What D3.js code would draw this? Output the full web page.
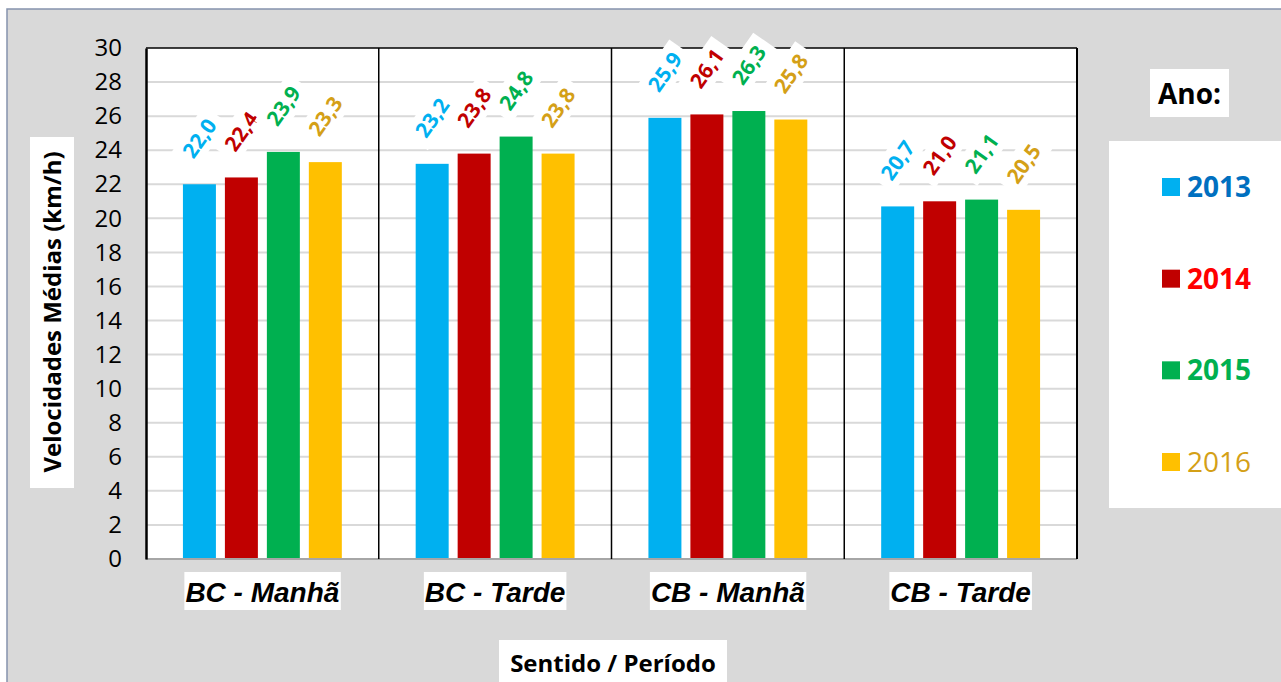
<!DOCTYPE html>
<html><head><meta charset="utf-8">
<script src="https://cdn.jsdelivr.net/npm/d3@7"></script>
<style>body{margin:0;background:#fff}svg{display:block}</style>
</head><body>
<script>
const categories = ["BC - Manhã", "BC - Tarde", "CB - Manhã", "CB - Tarde"];
const years = ["2013", "2014", "2015", "2016"];
const v2013 = [22.0, 23.2, 25.9, 20.7];
const v2014 = [22.4, 23.8, 26.1, 21.0];
const v2015 = [23.9, 24.8, 26.3, 21.1];
const v2016 = [23.3, 23.8, 25.8, 20.5];
const yTicks = [0,2,4,6,8,10,12,14,16,18,20,22,24,26,28,30];
const barColors = ["#00b0f0", "#c00000", "#00b050", "#ffc000"];
const labelColors = ["#00b0f0", "#c00000", "#00b050", "#d4a017"];
const legendTextColors = ["#0070c0", "#ff0000", "#00b050", "#d4a017"];
const series = [v2013, v2014, v2015, v2016];

(function () {
const W = 1281, H = 682;
const svg = d3.select("body").append("svg").attr("width", W).attr("height", H);
const fontSans = "'Open Sans', 'Noto Sans', sans-serif";

svg.append("rect").attr("x", 7).attr("y", 9).attr("width", W + 20).attr("height", H + 20)
  .attr("fill", "#d9d9d9").attr("stroke", "#8593ad").attr("stroke-width", 1.5);

const pL = 146, pR = 1077, pT = 48, pB = 559;
const x0 = d3.scaleBand().domain(categories).range([pL, pR]).padding(0);
const x1 = d3.scaleBand().domain(years).range([0, x0.bandwidth()]).paddingInner(0.214).paddingOuter(0.88);
const y = d3.scaleLinear().domain([0, 30]).range([pB, pT]);

svg.append("rect").attr("x", pL).attr("y", pT).attr("width", pR - pL).attr("height", pB - pT).attr("fill", "#fff");

svg.append("g").selectAll("line").data(yTicks.filter(d => d > 0 && d < 30)).join("line")
  .attr("x1", pL).attr("x2", pR).attr("y1", d => y(d)).attr("y2", d => y(d))
  .attr("stroke", "#d9d9d9").attr("stroke-width", 2);

const g = svg.append("g");
categories.forEach((c, ci) => {
  years.forEach((yr, yi) => {
    g.append("rect").attr("x", x0(c) + x1(yr)).attr("y", y(series[yi][ci]))
      .attr("width", x1.bandwidth()).attr("height", y(0) - y(series[yi][ci]))
      .attr("fill", barColors[yi]);
  });
});

svg.append("line").attr("x1", pL).attr("x2", pR).attr("y1", pB).attr("y2", pB).attr("stroke", "#a6a6a6").attr("stroke-width", 2);
svg.append("line").attr("x1", pL).attr("x2", pR).attr("y1", pT).attr("y2", pT).attr("stroke", "#000").attr("stroke-width", 1.5);
svg.append("line").attr("x1", pR).attr("x2", pR).attr("y1", pT).attr("y2", pB).attr("stroke", "#000").attr("stroke-width", 2);
svg.append("g").selectAll("line").data(categories.slice(1)).join("line")
  .attr("x1", d => x0(d)).attr("x2", d => x0(d)).attr("y1", pT).attr("y2", pB)
  .attr("stroke", "#000").attr("stroke-width", 1.5);

const yAxis = d3.axisLeft(y).tickValues(yTicks).tickSize(0).tickPadding(24);
const ya = svg.append("g").attr("transform", `translate(${pL},0)`).call(yAxis);
ya.select(".domain").attr("stroke", "#000").attr("stroke-width", 2.5);
ya.selectAll("text").attr("font-family", fontSans).attr("font-size", 24).attr("fill", "#000");

categories.forEach((c, ci) => {
  years.forEach((yr, yi) => {
    const v = series[yi][ci];
    const cx = x0(c) + x1(yr) + x1.bandwidth() / 2;
    const cy = y(v) - 46;
    const lg = svg.append("g").attr("transform", `translate(${cx},${cy}) rotate(-55)`);
    lg.append("rect").attr("x", -29).attr("y", -15).attr("width", 58).attr("height", 30).attr("fill", "#fff");
    lg.append("text").attr("text-anchor", "middle").attr("dy", "0.36em")
      .attr("font-family", fontSans).attr("font-weight", "bold").attr("font-size", 21)
      .attr("fill", labelColors[yi]).text(v.toFixed(1).replace(".", ","));
  });
});

categories.forEach(c => {
  const cx = x0(c) + x0.bandwidth() / 2;
  const t = svg.append("text").attr("x", cx).attr("y", 602).attr("text-anchor", "middle")
    .attr("font-family", "'Liberation Sans', Arial, sans-serif").attr("font-weight", "bold")
    .attr("font-style", "italic").attr("font-size", 28).attr("fill", "#000").text(c);
  const bb = t.node().getBBox();
  svg.insert("rect", () => t.node()).attr("x", bb.x - 1).attr("y", 572).attr("width", bb.width + 2).attr("height", 38).attr("fill", "#fff");
});

{
  const t = svg.append("text").attr("x", 613).attr("y", 672).attr("text-anchor", "middle")
    .attr("font-family", fontSans).attr("font-weight", "bold").attr("font-size", 24).attr("fill", "#000")
    .text("Sentido / Período");
  svg.insert("rect", () => t.node()).attr("x", 499).attr("y", 640).attr("width", 228).attr("height", 50).attr("fill", "#fff");
}

svg.append("rect").attr("x", 30).attr("y", 137).attr("width", 44).attr("height", 351).attr("fill", "#fff");
svg.append("text").attr("transform", "translate(61,312) rotate(-90)").attr("text-anchor", "middle")
  .attr("font-family", fontSans).attr("font-weight", "bold").attr("font-size", 24).attr("fill", "#000")
  .text("Velocidades Médias (km/h)");

svg.append("rect").attr("x", 1150).attr("y", 69).attr("width", 79).attr("height", 48).attr("fill", "#fff");
svg.append("text").attr("x", 1189.5).attr("y", 104).attr("text-anchor", "middle")
  .attr("font-family", fontSans).attr("font-weight", "bold").attr("font-size", 28).attr("fill", "#000").text("Ano:");
svg.append("rect").attr("x", 1109).attr("y", 141).attr("width", 200).attr("height", 367).attr("fill", "#fff");
const legendY = d3.scalePoint().domain(years).range([187, 462]);
years.forEach((yr, i) => {
  svg.append("rect").attr("x", 1162).attr("y", legendY(yr) - 9).attr("width", 18).attr("height", 18).attr("fill", barColors[i]);
  svg.append("text").attr("x", 1187).attr("y", legendY(yr)).attr("dy", "0.36em")
    .attr("font-family", fontSans).attr("font-weight", i === 3 ? "normal" : "bold").attr("font-size", 28)
    .attr("fill", legendTextColors[i]).text(yr);
});
})();
</script>
</body></html>
